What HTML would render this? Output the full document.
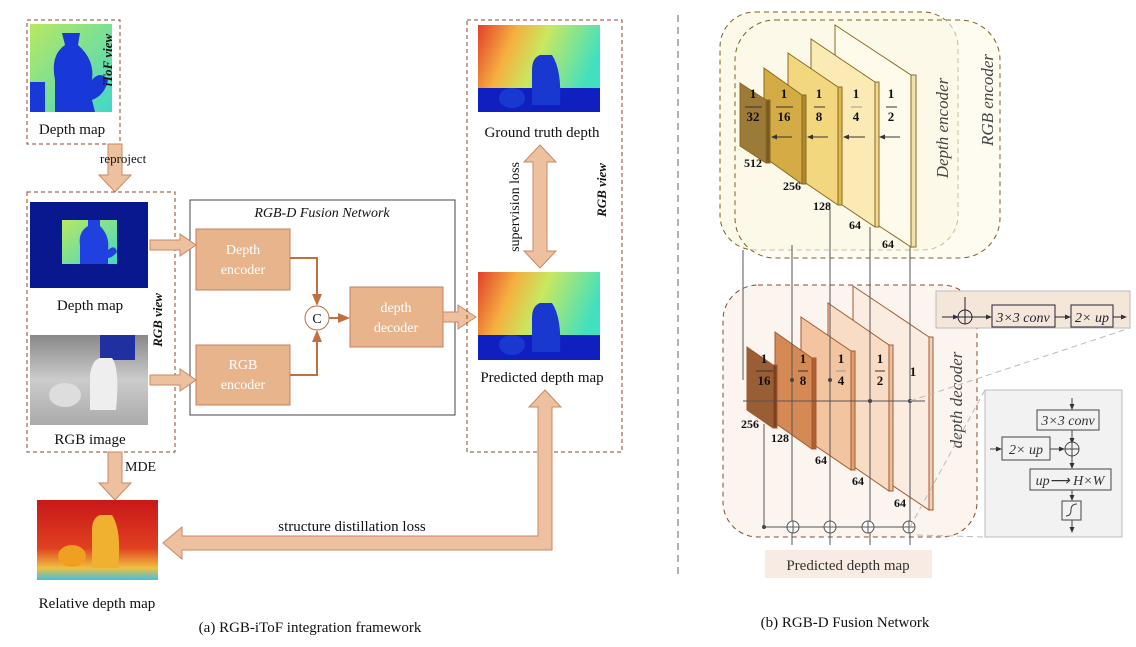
<!DOCTYPE html>
<html><head><meta charset="utf-8"><style>
body{margin:0;background:#fff}
svg text{font-family:"Liberation Serif",serif;fill:#111}
</style></head><body>
<svg width="1136" height="642" viewBox="0 0 1136 642" xmlns="http://www.w3.org/2000/svg">
<defs>
<linearGradient id="gt" x1="0" y1="0" x2="1" y2="0.3"><stop offset="0" stop-color="#e0402a"/><stop offset="0.3" stop-color="#f5b040"/><stop offset="0.55" stop-color="#c8e860"/><stop offset="1" stop-color="#40e0c0"/></linearGradient>
<linearGradient id="itof" x1="0" y1="0" x2="1" y2="1"><stop offset="0" stop-color="#b8e860"/><stop offset="1" stop-color="#40d8c8"/></linearGradient>
<linearGradient id="rel" x1="0" y1="0" x2="0" y2="1"><stop offset="0" stop-color="#c81818"/><stop offset="0.6" stop-color="#e04020"/><stop offset="0.85" stop-color="#f0c040"/><stop offset="1" stop-color="#40c0e0"/></linearGradient>
<linearGradient id="rgb" x1="0" y1="0" x2="0" y2="1"><stop offset="0" stop-color="#888"/><stop offset="0.5" stop-color="#ccc"/><stop offset="1" stop-color="#aaa"/></linearGradient>
<marker id="ah" markerWidth="6" markerHeight="6" refX="5" refY="3" orient="auto"><path d="M0,0.5 L6,3 L0,5.5 z" fill="#333"/></marker>
<marker id="ao" markerWidth="6" markerHeight="6" refX="5" refY="3" orient="auto"><path d="M0,0.5 L6,3 L0,5.5 z" fill="#c07040"/></marker>
</defs>

<!-- LEFT PART -->
<rect x="27" y="20" width="93" height="124" fill="none" stroke="#8a4a2a" stroke-dasharray="4,3"/>
<rect x="30" y="24" width="82" height="88" fill="url(#itof)"/>
<path d="M55,112 L55,80 Q50,55 65,45 L62,33 L80,33 L78,45 Q95,60 92,80 Q100,70 108,80 Q105,95 92,100 L95,112 Z" fill="#1838d8"/>
<rect x="30" y="82" width="15" height="30" fill="#1838d8"/>
<text x="112" y="60" font-size="13" font-weight="bold" font-style="italic" transform="rotate(-90 112 60)" text-anchor="middle">iToF view</text>
<text x="72" y="134" font-size="15" text-anchor="middle">Depth map</text>

<path d="M108,144 L122,144 L122,175 L131,175 L115,192 L99,175 L108,175 Z" fill="#edc0a0" stroke="#c88a60"/>
<text x="100" y="163" font-size="13">reproject</text>

<rect x="27" y="192" width="148" height="260" fill="none" stroke="#8a4a2a" stroke-dasharray="4,3"/>
<rect x="30" y="202" width="118" height="86" fill="#0a1890"/>
<rect x="62" y="220" width="55" height="44" fill="url(#itof)"/>
<path d="M80,264 L80,245 Q78,232 88,226 L88,220 L100,220 L100,226 Q110,236 108,250 Q115,244 117,252 Q112,258 108,258 L108,264 Z" fill="#2040e0"/>
<text x="90" y="310" font-size="15" text-anchor="middle">Depth map</text>
<rect x="30" y="335" width="118" height="90" fill="url(#rgb)"/>
<rect x="100" y="335" width="35" height="25" fill="#2030a0"/>
<path d="M90,410 L90,375 Q92,360 100,358 L112,358 Q120,368 116,410 Z" fill="#eee"/>
<ellipse cx="65" cy="395" rx="16" ry="12" fill="#ddd"/>
<text x="90" y="444" font-size="15" text-anchor="middle">RGB image</text>
<text x="162" y="320" font-size="13" font-weight="bold" font-style="italic" transform="rotate(-90 162 320)" text-anchor="middle">RGB view</text>

<path d="M108,452 L122,452 L122,483 L131,483 L115,500 L99,483 L108,483 Z" fill="#edc0a0" stroke="#c88a60"/>
<text x="125" y="471" font-size="14">MDE</text>

<rect x="37" y="500" width="121" height="80" fill="url(#rel)"/>
<path d="M92,568 L92,530 Q92,518 100,515 L112,515 Q122,530 118,568 Z" fill="#f0b030"/>
<ellipse cx="72" cy="556" rx="14" ry="11" fill="#f0a020"/>
<text x="97" y="608" font-size="15" text-anchor="middle">Relative depth map</text>

<!-- Fusion network -->
<rect x="190" y="200" width="265" height="215" fill="none" stroke="#444"/>
<text x="322" y="217" font-size="14" font-style="italic" text-anchor="middle">RGB-D Fusion Network</text>
<rect x="196" y="229" width="94" height="61" fill="#e8b48c" stroke="#c08060"/>
<text x="243" y="254" font-size="14" fill="#fff" text-anchor="middle" style="fill:#fff">Depth</text>
<text x="243" y="274" font-size="14" text-anchor="middle" style="fill:#fff">encoder</text>
<rect x="196" y="345" width="94" height="60" fill="#e8b48c" stroke="#c08060"/>
<text x="243" y="369" font-size="14" text-anchor="middle" style="fill:#fff">RGB</text>
<text x="243" y="389" font-size="14" text-anchor="middle" style="fill:#fff">encoder</text>
<rect x="350" y="287" width="93" height="60" fill="#e8b48c" stroke="#c08060"/>
<text x="396" y="312" font-size="14" text-anchor="middle" style="fill:#fff">depth</text>
<text x="396" y="332" font-size="14" text-anchor="middle" style="fill:#fff">decoder</text>
<circle cx="317" cy="318" r="12" fill="#fff" stroke="#c07040"/>
<text x="317" y="323" font-size="14" text-anchor="middle">C</text>
<path d="M290,258 L317,258 L317,304" fill="none" stroke="#c07040" stroke-width="2" marker-end="url(#ao)"/>
<path d="M290,375 L317,375 L317,332" fill="none" stroke="#c07040" stroke-width="2" marker-end="url(#ao)"/>
<path d="M329,318 L348,318" fill="none" stroke="#c07040" stroke-width="2" marker-end="url(#ao)"/>
<path d="M150,240 L180,240 L180,234 L196,245 L180,256 L180,250 L150,250 Z" fill="#edc0a0" stroke="#c88a60"/>
<path d="M150,375 L180,375 L180,369 L196,380 L180,391 L180,385 L150,385 Z" fill="#edc0a0" stroke="#c88a60"/>
<path d="M443,312 L458,312 L458,305 L476,317 L458,329 L458,322 L443,322 Z" fill="#edc0a0" stroke="#c88a60"/>

<!-- right column of part a -->
<rect x="467" y="20" width="155" height="432" fill="none" stroke="#8a4a2a" stroke-dasharray="4,3"/>
<rect x="478" y="25" width="122" height="87" fill="url(#gt)"/>
<rect x="478" y="88" width="122" height="24" fill="#1020c0"/>
<path d="M532,105 L532,70 Q532,58 540,55 L552,55 Q562,70 560,105 Z" fill="#1838d0"/>
<ellipse cx="512" cy="98" rx="13" ry="10" fill="#1838d0"/>
<text x="542" y="137" font-size="15" text-anchor="middle">Ground truth depth</text>
<path d="M540,145 L556,162 L547,162 L547,251 L556,251 L540,268 L524,251 L533,251 L533,162 L524,162 Z" fill="#edc0a0" stroke="#c88a60"/>
<text x="519" y="207" font-size="14" text-anchor="middle" transform="rotate(-90 519 207)">supervision loss</text>
<text x="606" y="190" font-size="13" font-weight="bold" font-style="italic" text-anchor="middle" transform="rotate(-90 606 190)">RGB view</text>
<rect x="478" y="272" width="122" height="88" fill="url(#gt)"/>
<rect x="478" y="335" width="122" height="25" fill="#1020c0"/>
<path d="M532,352 L532,318 Q532,306 540,303 L552,303 Q562,318 560,352 Z" fill="#1838d0"/>
<ellipse cx="512" cy="345" rx="13" ry="10" fill="#1838d0"/>
<text x="542" y="382" font-size="15" text-anchor="middle">Predicted depth map</text>

<path d="M545,390 L561,407 L552,407 L552,550 L182,550 L182,559 L163,543 L182,527 L182,536 L538,536 L538,407 L529,407 Z" fill="#edc0a0" stroke="#c88a60"/>
<text x="352" y="531" font-size="15" text-anchor="middle">structure distillation loss</text>
<text x="310" y="632" font-size="15" text-anchor="middle">(a) RGB-iToF integration framework</text>

<line x1="678" y1="15" x2="678" y2="575" stroke="#666" stroke-dasharray="7,5"/>
<text x="845" y="627" font-size="15" text-anchor="middle">(b) RGB-D Fusion Network</text>

<!-- ENCODER -->
<rect x="720" y="12" width="238" height="238" rx="35" fill="#fdf9e8" stroke="#7a6020" stroke-dasharray="5,4"/>
<rect x="735" y="20" width="265" height="238" rx="40" fill="#fdf9e8" fill-opacity="0.6" stroke="#7a6020" stroke-dasharray="5,4"/>
<text x="948" y="128" font-size="17" font-style="italic" text-anchor="middle" transform="rotate(-90 948 128)" style="fill:#444">Depth encoder</text>
<text x="993" y="100" font-size="17" font-style="italic" text-anchor="middle" transform="rotate(-90 993 100)" style="fill:#444">RGB encoder</text>
<g stroke="#8a6a20" stroke-width="1">
<polygon points="835,25 911,75 916,75 916,247 911,247 835,197" fill="#fffbea"/>
<rect x="911" y="75" width="5" height="172" fill="#f0e2b0"/>
<polygon points="811,39 875,82 879,82 879,227 875,227 811,184" fill="#fbeab3"/>
<rect x="875" y="82" width="4" height="145" fill="#f0d890"/>
<polygon points="788,53 838,87 842,87 842,205 838,205 788,171" fill="#f3d77e"/>
<rect x="838" y="87" width="4" height="118" fill="#e0b850"/>
<polygon points="764,68 802,95 806,95 806,184 802,184 764,157" fill="#d4ab45"/>
<rect x="802" y="95" width="4" height="89" fill="#b08a30"/>
<polygon points="740,83 766,100 770,100 770,163 766,163 740,146" fill="#9c7a38"/>
<rect x="766" y="100" width="4" height="63" fill="#7a5a20"/>
</g>
<g font-size="13" font-weight="bold" text-anchor="middle" style="fill:#333">
<text x="753" y="98">1</text><line x1="745" y1="107" x2="762" y2="107" stroke="#333"/><text x="753" y="121">32</text>
<text x="784" y="98">1</text><line x1="776" y1="107" x2="793" y2="107" stroke="#333"/><text x="784" y="121">16</text>
<text x="819" y="98">1</text><line x1="814" y1="107" x2="825" y2="107" stroke="#333"/><text x="819" y="121">8</text>
<text x="856" y="98">1</text><line x1="851" y1="107" x2="862" y2="107" stroke="#999"/><text x="856" y="121">4</text>
<text x="891" y="98">1</text><line x1="886" y1="107" x2="897" y2="107" stroke="#333"/><text x="891" y="121">2</text>
<text x="753" y="167" font-size="12">512</text>
<text x="792" y="190" font-size="12">256</text>
<text x="822" y="210" font-size="12">128</text>
<text x="855" y="229" font-size="12">64</text>
<text x="888" y="248" font-size="12">64</text>
</g>
<g stroke="#333" stroke-width="1" marker-end="url(#ah)">
<line x1="792" y1="137" x2="772" y2="137"/><line x1="828" y1="137" x2="808" y2="137"/>
<line x1="865" y1="137" x2="844" y2="137"/><line x1="900" y1="137" x2="880" y2="137"/>
</g>

<!-- DECODER -->
<rect x="723" y="285" width="254" height="252" rx="35" fill="#fcf4ef" stroke="#8a4a2a" stroke-dasharray="5,4"/>
<text x="962" y="400" font-size="17" font-style="italic" text-anchor="middle" transform="rotate(-90 962 400)" style="fill:#444">depth decoder</text>
<g stroke="#a05a30" stroke-width="1">
<polygon points="853,286 929,337 933,337 933,510 929,510 853,459" fill="#fbece2"/>
<rect x="929" y="337" width="4" height="173" fill="#f0d2bc"/>
<polygon points="828,303 889,345 893,345 893,491 889,491 828,449" fill="#f8dcc6"/>
<rect x="889" y="345" width="4" height="146" fill="#eec0a0"/>
<polygon points="801,317 851,351 855,351 855,470 851,470 801,436" fill="#f2c4a0"/>
<rect x="851" y="351" width="4" height="119" fill="#e0a070"/>
<polygon points="775,332 812,358 816,358 816,449 812,449 775,423" fill="#d58a55"/>
<rect x="812" y="358" width="4" height="91" fill="#b06030"/>
<polygon points="747,347 773,365 777,365 777,428 773,428 747,410" fill="#9a5e34"/>
<rect x="773" y="365" width="4" height="63" fill="#7a4020"/>
</g>
<g stroke="#555" fill="none" stroke-width="1">
<line x1="743" y1="250" x2="743" y2="380"/>
<line x1="792" y1="245" x2="792" y2="545"/>
<line x1="830" y1="205" x2="830" y2="545"/>
<line x1="870" y1="227" x2="870" y2="545"/>
<line x1="910" y1="247" x2="910" y2="545"/>
<line x1="764" y1="424" x2="764" y2="527"/>
<line x1="743" y1="401" x2="925" y2="401"/>
<line x1="764" y1="527" x2="910" y2="527"/>
</g>
<g fill="#444"><circle cx="792" cy="380" r="2"/><circle cx="830" cy="380" r="2"/><circle cx="870" cy="401" r="2"/><circle cx="910" cy="401" r="2"/><circle cx="764" cy="527" r="2"/></g>
<g fill="#fff" stroke="#555"><circle cx="793" cy="527" r="6"/><circle cx="830" cy="527" r="6"/><circle cx="868" cy="527" r="6"/><circle cx="909" cy="527" r="6"/></g>
<g stroke="#555"><line x1="787" y1="527" x2="799" y2="527"/><line x1="824" y1="527" x2="836" y2="527"/><line x1="862" y1="527" x2="874" y2="527"/><line x1="903" y1="527" x2="915" y2="527"/><line x1="793" y1="521" x2="793" y2="533"/><line x1="830" y1="521" x2="830" y2="533"/><line x1="868" y1="521" x2="868" y2="533"/><line x1="909" y1="521" x2="909" y2="533"/></g>
<g font-size="13" font-weight="bold" text-anchor="middle" style="fill:#444">
<text x="764" y="363">1</text><line x1="756" y1="371" x2="773" y2="371" stroke="#333"/><text x="764" y="385">16</text>
<text x="803" y="363">1</text><line x1="798" y1="371" x2="808" y2="371" stroke="#333"/><text x="803" y="385">8</text>
<text x="841" y="363">1</text><line x1="836" y1="371" x2="846" y2="371" stroke="#999"/><text x="841" y="385">4</text>
<text x="880" y="363">1</text><line x1="875" y1="371" x2="885" y2="371" stroke="#333"/><text x="880" y="385">2</text>
<text x="913" y="376">1</text>
<text x="750" y="428" font-size="12">256</text>
<text x="780" y="442" font-size="12">128</text>
<text x="821" y="464" font-size="12">64</text>
<text x="858" y="485" font-size="12">64</text>
<text x="900" y="507" font-size="12">64</text>
</g>
<rect x="765" y="550" width="167" height="28" fill="#f8ebe3"/>
<text x="848" y="570" font-size="15" text-anchor="middle" style="fill:#333">Predicted depth map</text>

<!-- zoom lines -->
<g stroke="#bbb" stroke-dasharray="6,4"><line x1="910" y1="401" x2="1130" y2="328"/><line x1="910" y1="527" x2="985" y2="390"/><line x1="917" y1="535" x2="985" y2="537"/></g>

<!-- inset 1 -->
<rect x="936" y="291" width="194" height="37" fill="#f5e6da" stroke="#bbb"/>
<g stroke="#223" fill="none"><line x1="942" y1="317" x2="958" y2="317" marker-end="url(#ah)"/><circle cx="965" cy="317" r="7"/><line x1="958" y1="317" x2="972" y2="317"/><line x1="965" y1="297" x2="965" y2="324"/><line x1="972" y1="317" x2="991" y2="317" marker-end="url(#ah)"/><rect x="992" y="305" width="63" height="22"/><line x1="1055" y1="317" x2="1070" y2="317" marker-end="url(#ah)"/><rect x="1071" y="305" width="42" height="22"/><line x1="1113" y1="317" x2="1126" y2="317" marker-end="url(#ah)"/></g>
<text x="1023" y="322" font-size="14" font-style="italic" text-anchor="middle" style="fill:#223">3×3 conv</text>
<text x="1092" y="322" font-size="14" font-style="italic" text-anchor="middle" style="fill:#223">2× up</text>

<!-- inset 2 -->
<rect x="985" y="390" width="137" height="147" fill="#f2f2f2" stroke="#bbb"/>
<g stroke="#444" fill="none">
<line x1="1072" y1="398" x2="1072" y2="409" marker-end="url(#ah)"/>
<rect x="1037" y="410" width="62" height="20"/>
<line x1="1072" y1="430" x2="1072" y2="443" marker-end="url(#ah)"/>
<line x1="990" y1="449" x2="1001" y2="449" marker-end="url(#ah)"/>
<rect x="1002" y="437" width="48" height="23"/>
<line x1="1050" y1="449" x2="1064" y2="449" marker-end="url(#ah)"/>
<circle cx="1072" cy="449" r="7"/><line x1="1065" y1="449" x2="1079" y2="449"/><line x1="1072" y1="442" x2="1072" y2="456"/>
<line x1="1072" y1="456" x2="1072" y2="468" marker-end="url(#ah)"/>
<rect x="1030" y="469" width="81" height="21"/>
<line x1="1072" y1="490" x2="1072" y2="500" marker-end="url(#ah)"/>
<rect x="1062" y="501" width="19" height="19"/>
<path d="M1066,516 Q1071,516 1071,510 Q1071,504 1077,504"/>
<line x1="1072" y1="520" x2="1072" y2="532" marker-end="url(#ah)"/>
</g>
<text x="1068" y="425" font-size="14" font-style="italic" text-anchor="middle" style="fill:#333">3×3 conv</text>
<text x="1026" y="454" font-size="14" font-style="italic" text-anchor="middle" style="fill:#333">2× up</text>
<text x="1070" y="485" font-size="14" font-style="italic" text-anchor="middle" style="fill:#333">up⟶ H×W</text>
</svg>
</body></html>
